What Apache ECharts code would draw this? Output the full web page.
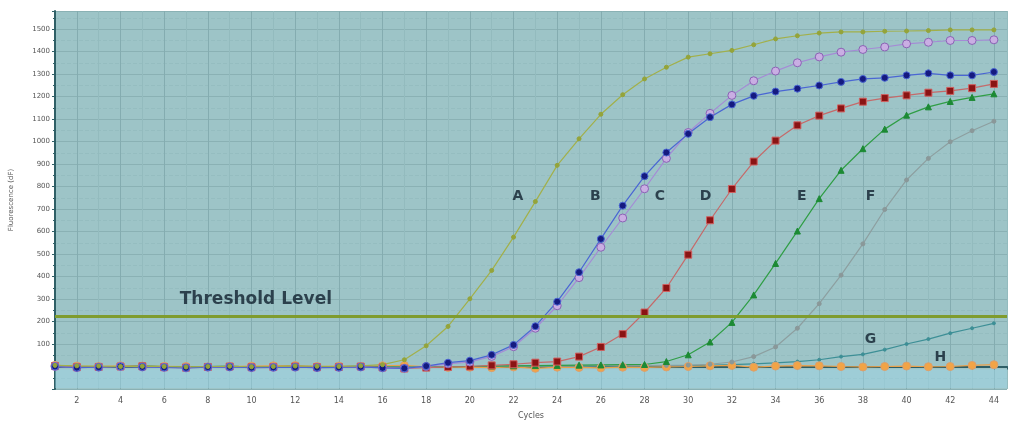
<!DOCTYPE html>
<html>
<head>
<meta charset="utf-8">
<script src="https://cdn.jsdelivr.net/npm/echarts@6/dist/echarts.min.js"></script>
<style>
html,body{margin:0;padding:0;background:#fff;}
#chart{width:1010px;height:425px;}
</style>
</head>
<body>
<div id="chart"></div>
<script>
const cycles = Array.from({length: 44}, (_, i) => i + 1);

const seriesA = [5,3,2,0,1,0,-2,0,1,-1,0,2,1,0,3,8,30,92,178,301,427,575,733,894,1012,1121,1208,1278,1330,1375,1390,1405,1430,1456,1470,1482,1487,1487,1490,1491,1493,1496,1496,1496];
const seriesB = [0,-5,-3,0,-2,-4,-6,-3,-2,-5,-4,-3,-5,-4,-2,-6,-8,2,17,26,52,96,179,288,419,567,715,846,951,1034,1108,1165,1203,1222,1235,1249,1265,1278,1283,1294,1303,1294,1294,1309];
const seriesC = [0,-5,-3,0,-2,-4,-6,-3,-2,-5,-4,-3,-5,-4,-2,-6,-8,0,12,20,45,88,170,270,395,530,660,790,925,1040,1125,1205,1270,1313,1350,1376,1397,1409,1420,1434,1441,1449,1449,1452];
const seriesD = [2,-3,-2,0,1,-3,-5,-2,0,-3,-2,0,-3,-2,0,-4,-9,-5,-2,0,5,10,17,22,44,87,144,240,349,497,650,789,911,1004,1072,1115,1147,1177,1193,1205,1217,1225,1237,1256];
const seriesE = [3,0,-2,0,2,0,-2,0,1,-2,0,1,-1,0,1,-2,-4,-3,-2,0,2,3,4,5,6,7,8,9,22,52,109,196,318,458,602,746,872,968,1055,1117,1154,1178,1196,1212];
const seriesF = [2,0,-1,0,1,0,-1,0,1,-1,0,1,0,0,1,-1,-3,-2,-1,0,1,2,2,3,3,4,4,4,5,6,10,20,44,87,170,279,406,545,698,829,925,999,1048,1090];
const seriesG = [1,0,-1,0,1,0,-1,0,1,-1,0,1,0,0,1,-1,-2,-1,0,0,1,1,2,2,2,3,3,3,4,4,5,8,12,16,22,30,44,54,75,100,122,148,170,192];
const seriesH = [5,2,0,3,2,1,0,-2,0,2,3,4,0,2,0,3,5,-2,-4,-3,-5,-2,-8,-3,-4,-6,-3,-4,-2,0,3,5,-3,2,4,3,0,-2,0,2,-1,0,5,8];

const thresholdLevel = 225;
const curveLabels = [
  {name:'A', x:22.2, y:754},
  {name:'B', x:25.75, y:754},
  {name:'C', x:28.7, y:754},
  {name:'D', x:30.8, y:754},
  {name:'E', x:35.2, y:754},
  {name:'F', x:38.35, y:754},
  {name:'G', x:38.35, y:122},
  {name:'H', x:41.55, y:40}
];
const thresholdText = {name:'Threshold Level', x:10.2, y:296};

function pairs(arr){ return arr.map((v,i)=>[cycles[i], v]); }

const chart = echarts.init(document.getElementById('chart'));

function lineSeries(name, data, color, sym, size, fill, border, extra){
  return Object.assign({
    name: name,
    type: 'line',
    data: pairs(data),
    symbol: sym,
    symbolSize: size,
    showSymbol: true,
    lineStyle: {color: color, width: 1.2},
    itemStyle: {color: fill, borderColor: border, borderWidth: 1},
    z: 3,
    animation: false
  }, extra || {});
}

chart.setOption({
  animation: false,
  grid: {left: 52, right: 2, top: 11, bottom: 30, show: true, backgroundColor: '#9dc4c7', borderColor: '#9dc4c7', borderWidth: 0},
  xAxis: {
    type: 'value',
    min: 1, max: 44.6, interval: 1,
    name: 'Cycles', nameLocation: 'middle', nameGap: 23,
    nameTextStyle: {fontSize: 8, color: '#555', fontFamily: 'DejaVu Sans'},
    axisLine: {show: true, lineStyle: {color: '#2f5f66', width: 2}},
    axisTick: {show: true, length: 3, lineStyle: {color: '#2f5f66'}},
    axisLabel: {fontSize: 8, color: '#555', margin: 8, fontFamily: 'DejaVu Sans',
      formatter: v => (v % 2 === 0 && v <= 44) ? String(v) : ''},
    splitLine: {show: true, lineStyle: {color: ['#93bbbe', '#84acb0'], width: 1}}
  },
  yAxis: {
    type: 'value',
    min: -100, max: 1580, interval: 100,
    name: 'Fluorescence (dF)', nameLocation: 'middle', nameGap: 40, nameRotate: 90,
    nameTextStyle: {fontSize: 7, color: '#555', fontFamily: 'DejaVu Sans'},
    axisLine: {show: true, lineStyle: {color: '#2f5f66', width: 2}},
    axisTick: {show: true, length: 3, lineStyle: {color: '#2f5f66'}},
    minorTick: {show: true, splitNumber: 2, length: 2, lineStyle: {color: '#2f5f66'}},
    axisLabel: {fontSize: 7, color: '#555', margin: 5, fontFamily: 'DejaVu Sans',
      formatter: v => (v > 0 && v <= 1500) ? String(v) : ''},
    splitLine: {show: true, lineStyle: {color: '#8ab1b4', width: 1}},
    minorSplitLine: {show: true, lineStyle: {color: '#95bdc0', width: 1, type: 'dashed'}}
  },
  series: [
    lineSeries('G', seriesG, '#3d8f96', 'circle', 3, '#3d8f96', '#3d8f96', {
      markArea: {silent: true, itemStyle: {color: 'rgba(160,220,240,0.4)'},
        data: [[{yAxis: -95}, {yAxis: -12}]]},
      markLine: {silent: true, symbol: 'none', label: {show: false},
        lineStyle: {color: '#7f9c2e', width: 3, type: 'solid'},
        data: [{yAxis: thresholdLevel}]}
    }),
    lineSeries('H', seriesH, '#e8a04a', 'circle', 8, '#f2a446', '#d9a070'),
    lineSeries('F', seriesF, '#8d9fa0', 'circle', 4, '#8a9899', '#8a9899'),
    lineSeries('E', seriesE, '#2f9e45', 'triangle', 6, '#1c8a34', '#1c8a34'),
    lineSeries('D', seriesD, '#c56a6a', 'rect', 7, '#8a1414', '#d06060'),
    lineSeries('C', seriesC, '#a58ad6', 'circle', 8, '#c9aee3', '#8a62b4'),
    lineSeries('B', seriesB, '#4a66d4', 'circle', 7, '#151a80', '#4a66d4'),
    lineSeries('A', seriesA, '#a2b04a', 'circle', 4, '#94a43a', '#94a43a'),
    {
      type: 'scatter',
      symbolSize: 0,
      z: 10,
      animation: false,
      data: curveLabels.map(l => ({name: l.name, value: [l.x, l.y]})),
      label: {
        show: true, position: 'inside',
        formatter: p => p.name,
        color: '#10202e',
        fontWeight: 'bold',
        fontSize: 14,
        fontFamily: 'DejaVu Sans'
      }
    },
    {
      type: 'scatter',
      symbolSize: 0,
      z: 10,
      animation: false,
      data: [{name: thresholdText.name, value: [thresholdText.x, thresholdText.y]}],
      label: {
        show: true, position: 'inside',
        formatter: p => p.name,
        color: '#10202e',
        fontWeight: 'bold',
        fontSize: 17,
        fontFamily: 'DejaVu Sans'
      }
    }
  ]
});
</script>
</body>
</html>
